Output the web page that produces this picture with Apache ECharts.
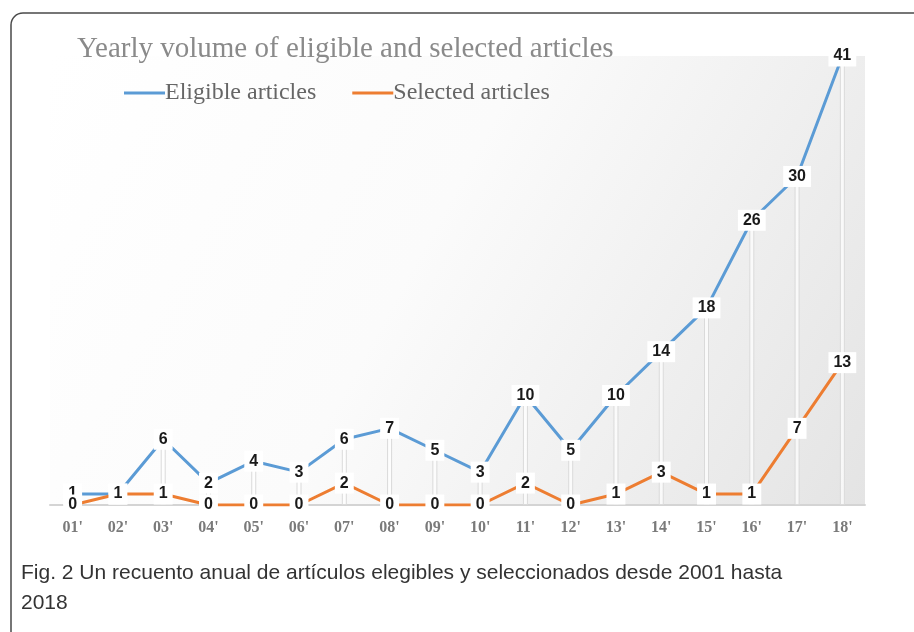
<!DOCTYPE html>
<html>
<head>
<meta charset="utf-8">
<script src="https://cdn.jsdelivr.net/npm/echarts@6/dist/echarts.min.js"></script>
<style>
html,body{margin:0;padding:0;background:#fff;}
#c{width:914px;height:632px;}
</style>
</head>
<body>
<div id="c"></div>
<script>
var categories = ["01'","02'","03'","04'","05'","06'","07'","08'","09'","10'","11'","12'","13'","14'","15'","16'","17'","18'"];
var eligible = [1,1,6,2,4,3,6,7,5,3,10,5,10,14,18,26,30,41];
var selected = [0,1,1,0,0,0,2,0,0,0,2,0,1,3,1,1,7,13];
var titleText = "Yearly volume of eligible and selected articles";
var captionLine1 = "Fig. 2 Un recuento anual de artículos elegibles y seleccionados desde 2001 hasta";
var captionLine2 = "2018";

var chart = echarts.init(document.getElementById('c'), null, {renderer:'canvas'});
var labelStyle = {
  show: true,
  position: 'inside',
  fontFamily: 'Liberation Sans, Arial, sans-serif',
  fontWeight: 'bold',
  fontSize: 16,
  color: '#1a1a1a',
  backgroundColor: '#ffffff',
  padding: [3, 5, 2, 5]
};
chart.setOption({
  animation: false,
  title: {
    text: titleText,
    left: 72, top: 30,
    textStyle: {fontFamily: 'Liberation Serif, Times New Roman, serif', fontSize: 29, fontWeight: 'normal', color: '#8a8a8a'}
  },
  legend: {
    data: ['Eligible articles', 'Selected articles'],
    left: 119, top: 76,
    icon: 'rect', itemWidth: 41, itemHeight: 3, itemGap: 36,
    textStyle: {fontFamily: 'Liberation Serif, Times New Roman, serif', fontSize: 24, color: '#666666', padding: [0,0,0,-5]}
  },
  grid: {
    left: 50, right: 49, top: 56, bottom: 127,
    show: true, borderWidth: 0,
    backgroundColor: new echarts.graphic.LinearGradient(0, 0, 1, 1, [
      {offset: 0, color: '#ffffff'},
      {offset: 0.45, color: '#fbfbfb'},
      {offset: 1, color: '#e4e4e4'}
    ])
  },
  xAxis: {
    type: 'category',
    data: categories,
    axisLine: {show: true, lineStyle: {color: '#d4d4d4', width: 2}},
    axisTick: {show: false},
    axisLabel: {margin: 15, fontFamily: 'Liberation Serif, Times New Roman, serif', fontWeight: 'bold', fontSize: 16, color: '#7a7a7a'}
  },
  yAxis: {
    type: 'value', min: 0, max: 41,
    show: false, splitLine: {show: false}
  },
  series: [
    {
      name: 'drop', type: 'bar', data: eligible, barWidth: 5, silent: true,
      itemStyle: {color: 'rgba(255,255,255,0.7)', borderColor: '#dadada', borderWidth: 1},
      z: 1
    },
    {
      name: 'Eligible articles', type: 'line', data: eligible,
      symbol: 'circle', symbolSize: 0,
      lineStyle: {color: '#5b9bd5', width: 3},
      itemStyle: {color: '#5b9bd5'},
      label: labelStyle,
      z: 3
    },
    {
      name: 'Selected articles', type: 'line', data: selected,
      symbol: 'circle', symbolSize: 0,
      lineStyle: {color: '#ed7d31', width: 3},
      itemStyle: {color: '#ed7d31'},
      label: labelStyle,
      z: 4
    }
  ],
  graphic: [
    {type: 'rect', shape: {x: 11, y: 13, width: 940, height: 640, r: 12}, style: {fill: 'none', stroke: '#4a4a4a', lineWidth: 1.5}, z: 100},
    {type: 'text', left: 21, top: 563, style: {text: captionLine1, font: '21px Liberation Sans, Arial, sans-serif', fill: '#333333'}},
    {type: 'text', left: 21, top: 593, style: {text: captionLine2, font: '21px Liberation Sans, Arial, sans-serif', fill: '#333333'}}
  ]
});
</script>
</body>
</html>
